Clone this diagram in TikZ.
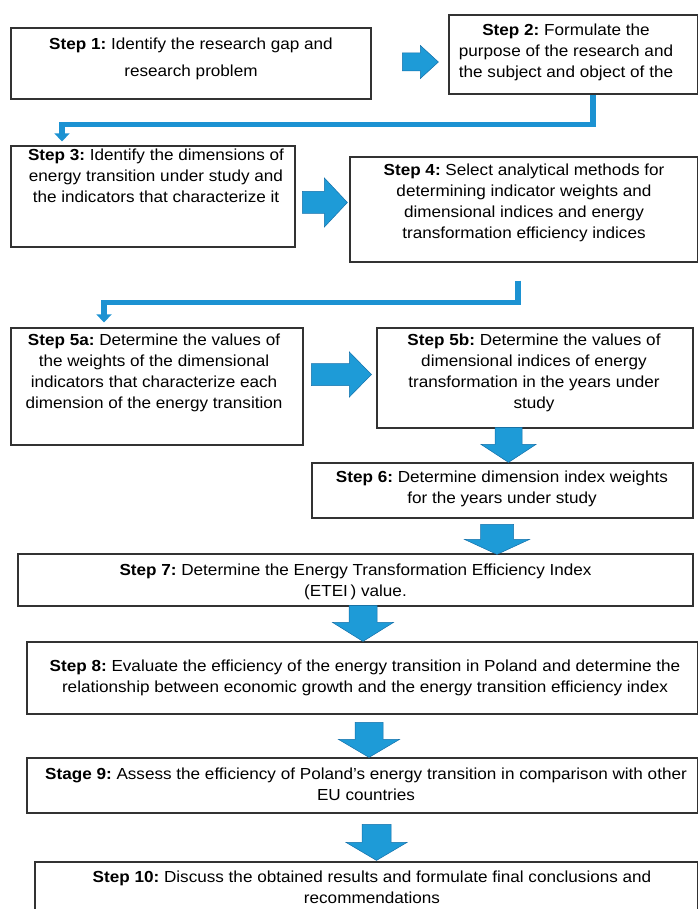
\documentclass[tikz,border=0pt]{standalone}
\usepackage{fontspec}
\setmainfont{Liberation Sans}[FakeStretch=1.07]
\usetikzlibrary{calc,arrows.meta}

\definecolor{boxline}{RGB}{50,50,50}
\definecolor{arrowfill}{RGB}{30,155,215}
\definecolor{arrowline}{RGB}{20,112,170}
\definecolor{connblue}{RGB}{28,146,210}

\tikzset{
  stepbox/.style={draw=boxline, line width=1.2pt, inner sep=0pt},
  steptext/.style={align=center, inner sep=0pt, font=\fontsize{16}{21}\selectfont\frenchspacing},
  blockarrow/.style={fill=arrowfill, draw=arrowline, line width=0.5pt, line join=miter},
  elbow/.style={draw=connblue, line width=5.5pt, -{Triangle[width=15pt,length=8pt]}},
}

% block arrows: tip, length, half shaft, half head, head length
\newcommand{\blkdown}[5]{%
  \filldraw[blockarrow] (#1) -- ++(-#4,-#5) -- ++(#4-#3,0) -- ++(0,#5-#2) -- ++(2*#3,0) -- ++(0,#2-#5) -- ++(#4-#3,0) -- cycle;}
\newcommand{\blkright}[5]{%
  \filldraw[blockarrow] (#1) -- ++(-#5,-#4) -- ++(0,#4-#3) -- ++(#5-#2,0) -- ++(0,2*#3) -- ++(#2-#5,0) -- ++(0,#4-#3) -- cycle;}

\begin{document}
\begin{tikzpicture}[x=1pt,y=-1pt]
\useasboundingbox (0,0) rectangle (699,909);
\clip (0,0) rectangle (699,909);

% boxes
\node[stepbox, minimum width=360, minimum height=71] (s1) at (191,63.5) {}; % Step 1
\node[steptext] (s1t) at (191,58.5) {\textbf{Step 1:} Identify the research gap and\\[6pt]research problem};
\node[stepbox, minimum width=248.5, minimum height=79] (s2) at (573.25,54.5) {}; % Step 2
\node[steptext] (s2t) at (566,52) {\textbf{Step 2:} Formulate the\\purpose of the research and\\the subject and object of the};
\node[stepbox, minimum width=284, minimum height=101] (s3) at (153,196.5) {}; % Step 3
\node[steptext] (s3t) at (156,176) {\textbf{Step 3:} Identify the dimensions of\\energy transition under study and\\the indicators that characterize it};
\node[stepbox, minimum width=347.5, minimum height=105] (s4) at (523.75,209.5) {}; % Step 4
\node[steptext] (s4t) at (524,203) {\textbf{Step 4:} Select analytical methods for\\determining indicator weights and\\dimensional indices and energy\\transformation efficiency indices};
\node[stepbox, minimum width=292, minimum height=117] (s5a) at (157,386.5) {}; % Step 5a
\node[steptext] (s5at) at (154,373) {\textbf{Step 5a:} Determine the values of\\the weights of the dimensional\\indicators that characterize each\\dimension of the energy transition};
\node[stepbox, minimum width=316, minimum height=100] (s5b) at (535,378) {}; % Step 5b
\node[steptext] (s5bt) at (534,373) {\textbf{Step 5b:} Determine the values of\\dimensional indices of energy\\transformation in the years under\\study};
\node[stepbox, minimum width=381, minimum height=55] (s6) at (502.5,490.5) {}; % Step 6
\node[steptext] (s6t) at (502,489) {\textbf{Step 6:} Determine dimension index weights\\for the years under study};
\node[stepbox, minimum width=675, minimum height=52] (s7) at (355.5,580) {}; % Step 7
\node[steptext] (s7t) at (355.5,582) {\textbf{Step 7:} Determine the Energy Transformation Efficiency Index\\(ETEI\,) value.};
\node[stepbox, minimum width=670.5, minimum height=72] (s8) at (362.25,678) {}; % Step 8
\node[steptext] (s8t) at (365,678) {\textbf{Step 8:} Evaluate the efficiency of the energy transition in Poland and determine the\\relationship between economic growth and the energy transition efficiency index};
\node[stepbox, minimum width=670.5, minimum height=55] (s9) at (362.25,785.5) {}; % Stage 9
\node[steptext] (s9t) at (366,784) {\textbf{Stage 9:} Assess the efficiency of Poland's energy transition in comparison with other\\EU countries};
\node[stepbox, minimum width=662.5, minimum height=50] (s10) at (366.25,887) {}; % Step 10
\node[steptext] (s10t) at (372,887) {\textbf{Step 10:} Discuss the obtained results and formulate final conclusions and\\recommendations};

% block arrows
\coordinate (a12) at ($(s2.west)+(-10,7.5)$);
\blkright{a12}{36}{9}{16.5}{18}
\coordinate (a34) at ($(s4.west)+(-2,-7)$);
\blkright{a34}{45}{11}{24.5}{23}
\coordinate (a5) at ($(s5b.west)+(-5,-3.5)$);
\blkright{a5}{60}{11}{22.5}{22}
\coordinate (d56) at ($(s6.north)+(6,0)$);
\blkdown{d56}{35}{13.5}{27.5}{18}
\coordinate (d67) at ($(s7.north)+(141.5,1)$);
\blkdown{d67}{30}{16.5}{32.5}{15}
\coordinate (d78) at ($(s8.north)+(0.75,0)$);
\blkdown{d78}{36}{14}{30.5}{19}
\coordinate (d89) at ($(s9.north)+(6.75,0)$);
\blkdown{d89}{35}{14}{30.5}{18}
\coordinate (d910) at ($(s10.north)+(10.25,-1)$);
\blkdown{d910}{36}{14.5}{30.5}{18}

% elbow connectors
\coordinate (e3) at ($(s3.north)+(-91,-4)$);
\draw[elbow] ($(s2.south)+(19.75,0)$) -- ++(0,30) -| (e3);
\coordinate (k4) at ($(s4.south)+(-5.75,18)$);
\coordinate (e5a) at ($(s5a.north)+(-53,-5)$);
\draw[elbow] (k4) -- ++(0,22) -| (e5a);

\end{tikzpicture}
\end{document}
